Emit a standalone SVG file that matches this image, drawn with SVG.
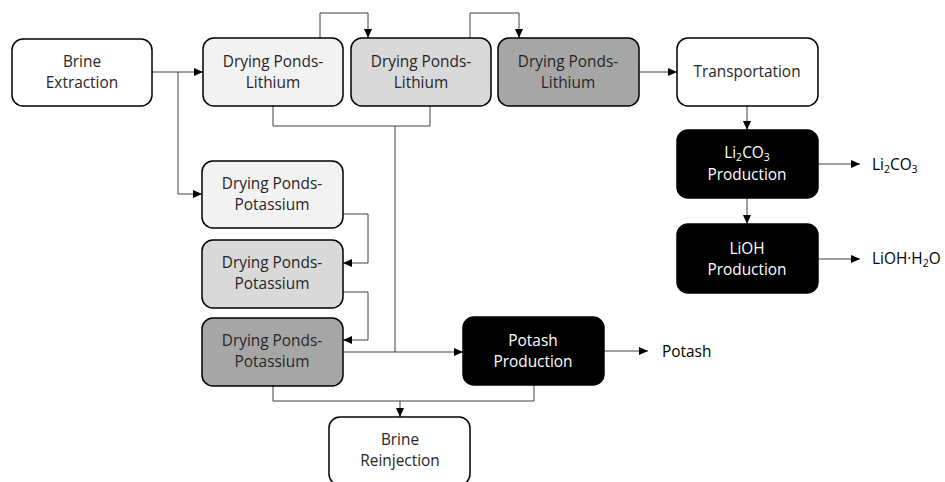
<svg xmlns="http://www.w3.org/2000/svg" width="945" height="482" viewBox="0 0 945 482">
<defs>
<marker id="ah" markerWidth="9" markerHeight="8" refX="9" refY="4" orient="auto" markerUnits="userSpaceOnUse">
<path d="M0,0 L9,4 L0,8 Z" fill="#000"/>
</marker>
</defs>
<style>
.box{stroke:#000;stroke-width:1.5}
.w{fill:#fff}.l1{fill:#f2f2f2}.l2{fill:#d9d9d9}.l3{fill:#a6a6a6}.bk{fill:#000}
text{font-family:"Open Sans","Noto Sans","Liberation Sans",sans-serif;font-size:15.4px;text-anchor:middle;fill:#262626}
.inv{fill:#fff}
.out{text-anchor:start;fill:#000}
.c{fill:none;stroke:#404040;stroke-width:1}
.cm{fill:none;stroke:#404040;stroke-width:1;marker-end:url(#ah)}
.sub{font-size:10.5px}
</style>
<g id="connectors">
<path class="cm" d="M152,72 H203"/>
<path class="cm" d="M178,72 V194 H202"/>
<path class="cm" d="M320,38 V13 H368 V38"/>
<path class="cm" d="M470,38 V13 H519 V38"/>
<path class="c" d="M273,106 V126 H430 V106"/>
<path class="c" d="M395,126 V352"/>
<path class="cm" d="M639,72 H677"/>
<path class="cm" d="M747,106 V130"/>
<path class="cm" d="M747,198 V224"/>
<path class="cm" d="M818,164 H860"/>
<path class="cm" d="M818,259 H860"/>
<path class="cm" d="M343,214 H368 V263 H343"/>
<path class="cm" d="M343,292 H368 V340 H343"/>
<path class="cm" d="M343,352 H463"/>
<path class="cm" d="M604,351 H648"/>
<path class="c" d="M273,386 V401 H534 V385"/>
<path class="cm" d="M400,401 V417"/>
</g>
<g id="brine-extraction"><rect class="box w" x="12" y="39" width="140" height="67" rx="11"/><text x="82" y="67">Brine</text><text x="82" y="88">Extraction</text></g>
<g id="dpl1"><rect class="box l1" x="203" y="38" width="140" height="68" rx="11"/><text x="273" y="67">Drying Ponds-</text><text x="273" y="88">Lithium</text></g>
<g id="dpl2"><rect class="box l2" x="351" y="38" width="140" height="68" rx="11"/><text x="421" y="67">Drying Ponds-</text><text x="421" y="88">Lithium</text></g>
<g id="dpl3"><rect class="box l3" x="498" y="38" width="141" height="68" rx="11"/><text x="568" y="67">Drying Ponds-</text><text x="568" y="88">Lithium</text></g>
<g id="transportation"><rect class="box w" x="677" y="38" width="141" height="68" rx="11"/><text x="747" y="77">Transportation</text></g>
<g id="li2co3-production"><rect class="box bk" x="677" y="130" width="141" height="68" rx="11"/><text class="inv" x="747" y="158">Li<tspan class="sub" dy="3">2</tspan><tspan dy="-3">CO</tspan><tspan class="sub" dy="3">3</tspan></text><text class="inv" x="747" y="180">Production</text></g>
<g id="lioh-production"><rect class="box bk" x="677" y="224" width="141" height="69" rx="11"/><text class="inv" x="747" y="254">LiOH</text><text class="inv" x="747" y="275">Production</text></g>
<g id="out-li2co3"><text class="out" x="872" y="170">Li<tspan class="sub" dy="3">2</tspan><tspan dy="-3">CO</tspan><tspan class="sub" dy="3">3</tspan></text></g>
<g id="out-lioh"><text class="out" x="872" y="264">LiOH·H<tspan class="sub" dy="3">2</tspan><tspan dy="-3">O</tspan></text></g>
<g id="dpk1"><rect class="box l1" x="202" y="161" width="141" height="67" rx="11"/><text x="272" y="189">Drying Ponds-</text><text x="272" y="210">Potassium</text></g>
<g id="dpk2"><rect class="box l2" x="202" y="240" width="141" height="68" rx="11"/><text x="272" y="268">Drying Ponds-</text><text x="272" y="289">Potassium</text></g>
<g id="dpk3"><rect class="box l3" x="202" y="318" width="141" height="68" rx="11"/><text x="272" y="346">Drying Ponds-</text><text x="272" y="367">Potassium</text></g>
<g id="potash-production"><rect class="box bk" x="463" y="317" width="141" height="68" rx="11"/><text class="inv" x="533" y="346">Potash</text><text class="inv" x="533" y="367">Production</text></g>
<g id="out-potash"><text class="out" x="662" y="357">Potash</text></g>
<g id="brine-reinjection"><rect class="box w" x="329" y="417" width="141" height="68" rx="11"/><text x="400" y="445">Brine</text><text x="400" y="466">Reinjection</text></g>
</svg>
